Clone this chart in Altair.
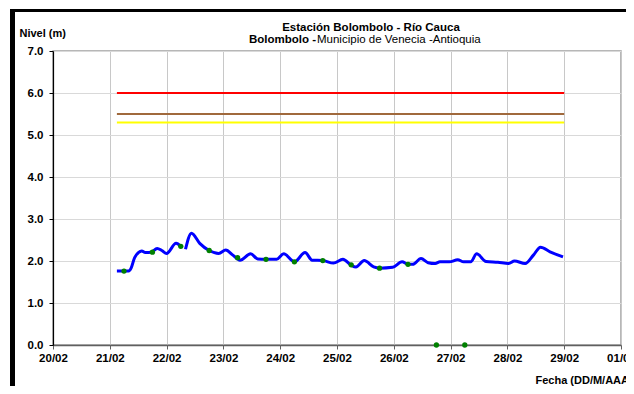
import altair as alt
import pandas as pd

# ---------------- data ----------------
seg1_times = ["2016-02-21T03:00:00", "2016-02-21T08:00:00", "2016-02-21T09:00:00", "2016-02-21T10:30:00",
              "2016-02-21T13:30:00", "2016-02-21T15:00:00", "2016-02-21T17:30:00", "2016-02-21T20:00:00",
              "2016-02-21T22:00:00", "2016-02-22T00:00:00", "2016-02-22T04:00:00", "2016-02-22T06:00:00"]
seg1_levels = [1.76, 1.76, 1.83, 2.08, 2.24, 2.20, 2.21, 2.30, 2.25, 2.18, 2.42, 2.35]

seg2_times = ["2016-02-22T08:00:00", "2016-02-22T10:30:00", "2016-02-22T14:00:00", "2016-02-22T18:00:00",
              "2016-02-22T22:00:00", "2016-02-23T01:00:00", "2016-02-23T04:00:00", "2016-02-23T07:00:00",
              "2016-02-23T11:30:00", "2016-02-23T14:30:00", "2016-02-23T18:00:00", "2016-02-23T22:30:00",
              "2016-02-24T01:30:00", "2016-02-24T06:00:00", "2016-02-24T10:30:00", "2016-02-24T13:30:00",
              "2016-02-24T18:00:00", "2016-02-24T22:30:00", "2016-02-25T02:30:00", "2016-02-25T06:00:00",
              "2016-02-25T08:00:00", "2016-02-25T11:30:00", "2016-02-25T15:30:00", "2016-02-25T18:00:00",
              "2016-02-25T23:30:00", "2016-02-26T03:30:00", "2016-02-26T06:00:00", "2016-02-26T08:00:00",
              "2016-02-26T11:30:00", "2016-02-26T14:30:00", "2016-02-26T17:30:00", "2016-02-26T19:30:00",
              "2016-02-26T23:30:00", "2016-02-27T03:00:00", "2016-02-27T05:30:00", "2016-02-27T08:30:00",
              "2016-02-27T11:00:00", "2016-02-27T15:00:00", "2016-02-27T20:00:00", "2016-02-28T00:30:00",
              "2016-02-28T03:00:00", "2016-02-28T07:30:00", "2016-02-28T11:00:00", "2016-02-28T14:00:00",
              "2016-02-28T18:00:00", "2016-02-28T23:30:00"]
seg2_levels = [2.28, 2.66, 2.42, 2.25, 2.18, 2.26, 2.14, 2.02, 2.17, 2.05, 2.04, 2.04,
               2.17, 1.98, 2.20, 2.02, 2.01, 1.95, 2.04, 1.90, 1.86, 2.01, 1.86, 1.83,
               1.85, 1.98, 1.92, 1.92, 2.06, 1.96, 1.94, 1.98, 1.98, 2.03, 1.98, 1.98,
               2.17, 1.99, 1.97, 1.94, 2.00, 1.94, 2.14, 2.33, 2.22, 2.10]

obs_times = ["2016-02-21T06:00:00", "2016-02-21T18:00:00", "2016-02-22T06:00:00", "2016-02-22T18:00:00",
             "2016-02-23T06:00:00", "2016-02-23T18:00:00", "2016-02-24T06:00:00", "2016-02-24T18:00:00",
             "2016-02-25T06:00:00", "2016-02-25T18:00:00", "2016-02-26T06:00:00", "2016-02-26T18:00:00",
             "2016-02-27T06:00:00"]
obs_levels = [1.76, 2.21, 2.35, 2.25, 2.08, 2.04, 1.98, 2.01, 1.91, 1.83, 1.92, 0.0, 0.0]

threshold_levels = [6.0, 5.5, 5.3]
threshold_colors = ["#FF0000", "#A0693C", "#FFFF00"]
threshold_start = "2016-02-21T03:00:00"
threshold_end = "2016-02-29T00:00:00"

day_ticks = [(2, d) for d in range(20, 30)] + [(3, 1)]
title_text = "Estación Bolombolo - Río Cauca"
subtitle_bold = "Bolombolo -"
subtitle_normal = "Municipio de Venecia -Antioquia"
y_title = "Nivel (m)"
x_title = "Fecha (DD/M/AAAA)"

FONT = "Liberation Sans"

# ---------------- tables ----------------
line_df = pd.DataFrame({
    "t": seg1_times + seg2_times,
    "nivel": seg1_levels + seg2_levels,
    "seg": ["a"] * len(seg1_times) + ["b"] * len(seg2_times),
})
obs_df = pd.DataFrame({"t": obs_times, "nivel": obs_levels})
thr_df = pd.DataFrame({
    "t0": [threshold_start] * 3,
    "t1": [threshold_end] * 3,
    "nivel": threshold_levels,
    "c": threshold_colors,
})

x_scale = alt.Scale(domain=[alt.DateTime(year=2016, month=2, date=20),
                            alt.DateTime(year=2016, month=3, date=1)], nice=False)
y_scale = alt.Scale(domain=[0, 7], nice=False, zero=True)

x_axis = alt.Axis(
    values=[alt.DateTime(year=2016, month=m, date=d) for m, d in day_ticks],
    format="%d/%m", labelFlush=False, labelOverlap=False,
    title=x_title, titleX=482, titleY=35, titleAlign="left", titleBaseline="middle",
    titleFont=FONT, titleFontSize=11, titleFontWeight="bold", titleColor="black",
    labelFont=FONT, labelFontSize=11.5, labelFontWeight="bold", labelColor="black",
    labelPadding=3, tickSize=4, tickColor="#606060", domainColor="#606060", domainWidth=1.5,
    gridColor="#C8C8C8", grid=True,
)
y_axis = alt.Axis(
    values=[i * 0.5 for i in range(15)],
    labelExpr="datum.value % 1 == 0 ? format(datum.value, '.1f') : ''",
    tickOpacity={"condition": {"test": "datum.value % 1 == 0", "value": 1}, "value": 0},
    title=y_title, titleAngle=0, titleX=-34, titleY=-18, titleAlign="left", titleBaseline="middle",
    titleFont=FONT, titleFontSize=11, titleFontWeight="bold", titleColor="black",
    labelFont=FONT, labelFontSize=11.5, labelFontWeight="bold", labelColor="black",
    labelPadding=6, tickSize=4, tickColor="black", domainColor="black", domainWidth=1.2,
    gridColor="#D9D9D9", grid=True,
)

line = alt.Chart(line_df).mark_line(color="#0000FF", strokeWidth=3, interpolate="monotone").encode(
    x=alt.X("t:T", scale=x_scale, axis=x_axis),
    y=alt.Y("nivel:Q", scale=y_scale, axis=y_axis),
    detail="seg:N",
)
thr = alt.Chart(thr_df).mark_rule(strokeWidth=2).encode(
    x="t0:T", x2="t1:T", y="nivel:Q",
    color=alt.Color("c:N", scale=None),
)
pts = alt.Chart(obs_df).mark_circle(color="#008000", size=28, opacity=1).encode(
    x="t:T", y="nivel:Q",
)

one = pd.DataFrame({"k": [0]})
title_mark = alt.Chart(one).mark_text(font=FONT, fontSize=11.5, fontWeight="bold", align="center",
                                      baseline="middle", color="black").encode(
    x=alt.value(318), y=alt.value(-23), text=alt.value(title_text))
sub_b = alt.Chart(one).mark_text(font=FONT, fontSize=11.5, fontWeight="bold", align="right",
                                 baseline="middle", color="black").encode(
    x=alt.value(263), y=alt.value(-11), text=alt.value(subtitle_bold))
sub_n = alt.Chart(one).mark_text(font=FONT, fontSize=11.5, fontWeight="normal", align="left",
                                 baseline="middle", color="black").encode(
    x=alt.value(264), y=alt.value(-11), text=alt.value(subtitle_normal))

frame_left = alt.Chart(one).mark_rule(color="black", strokeWidth=5).encode(
    x=alt.value(-40.5), y=alt.value(-42), y2=alt.value(345))
frame_top = alt.Chart(one).mark_rule(color="black", strokeWidth=3).encode(
    x=alt.value(-43), x2=alt.value(590), y=alt.value(-40.5))

chart = alt.layer(thr, line, pts, title_mark, sub_b, sub_n, frame_left, frame_top).properties(
    width=568, height=294,
    autosize=alt.AutoSizeParams(type="none"),
    padding={"left": 45, "top": 43, "right": 5, "bottom": 41},
    background="white",
).configure_view(stroke="#A0A0A0", strokeWidth=1.5)

chart.save("out.html", embed_options={"renderer": "svg", "actions": False})
